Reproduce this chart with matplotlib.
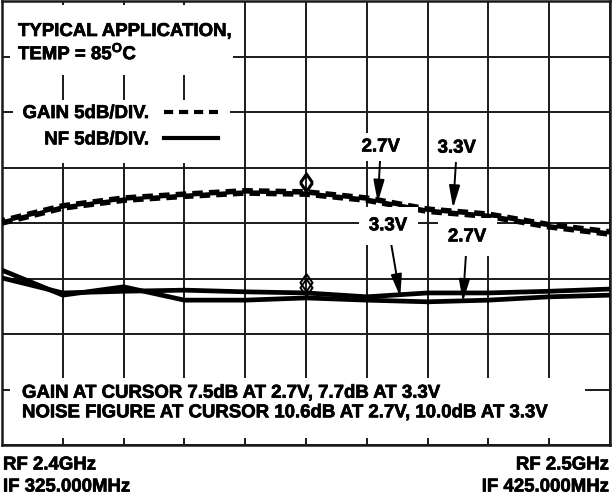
import numpy as np
import matplotlib
matplotlib.use("Agg")
import matplotlib.pyplot as plt
import matplotlib.patheffects as pe
from matplotlib.lines import Line2D
from matplotlib.patches import Rectangle
from matplotlib.path import Path

plt.rcParams['font.family'] = ['Liberation Sans', 'DejaVu Sans']
plt.rcParams['font.weight'] = 'bold'
plt.rcParams['mathtext.fontset'] = 'custom'
plt.rcParams['mathtext.rm'] = 'Liberation Sans:bold'
plt.rcParams['mathtext.bf'] = 'Liberation Sans:bold'

# RF sweep 2.4GHz -> 2.5GHz, one point per grid division
freq = [2.40, 2.41, 2.42, 2.43, 2.44, 2.45, 2.46, 2.47, 2.48, 2.49, 2.50]
# traces in screen divisions (5dB/DIV.)
gain_27 = [4.00, 4.27, 4.41, 4.48, 4.54, 4.52, 4.41, 4.21, 4.12, 3.93, 3.80]
gain_33 = [4.04, 4.31, 4.45, 4.52, 4.58, 4.56, 4.45, 4.25, 4.16, 3.97, 3.84]
nf_27 = [3.01, 2.74, 2.77, 2.79, 2.76, 2.74, 2.67, 2.74, 2.74, 2.77, 2.81]
nf_33 = [3.15, 2.70, 2.85, 2.61, 2.61, 2.65, 2.61, 2.58, 2.61, 2.67, 2.70]
cursor = 5

fs = 13.4
heavy = [pe.withStroke(linewidth=0.5, foreground='black')]
fig = plt.figure(figsize=(6.13, 4.97), dpi=100)
W, H = 613, 497
ax = fig.add_axes([2 / W, 1 - 445 / H, 608 / W, 444 / H])
ax.set_xlim(2.40, 2.50)
ax.set_ylim(0, 8)
ax.set_xticks(freq)
ax.set_yticks(np.arange(0, 9))
ax.set_xticklabels([])
ax.set_yticklabels([])
ax.tick_params(length=0)
ax.set_axisbelow(True)
ax.grid(True, color='#1a1a1a', lw=1.4)
for s in ax.spines.values():
    s.set_linewidth(1.8)
    s.set_color('#1a1a1a')


def px_box(x0, y0, x1, y1):
    # white blanking box, given in pixel coords of the axes
    ax.add_patch(Rectangle(((x0 - 2) / 608, 1 - (y1 - 1) / 444), (x1 - x0) / 608, (y1 - y0) / 444,
                           transform=ax.transAxes, facecolor='white', edgecolor='none', zorder=1))


px_box(10, 5, 233, 75)
px_box(13, 100, 230, 163)
px_box(10, 378, 585, 438)

ax.plot(freq, gain_27, color='k', lw=4.0, ls=(0, (1.9, 1.1)), zorder=3)
ax.plot(freq, gain_33, color='k', lw=4.0, ls=(1.3, (1.9, 1.1)), zorder=3)
ax.plot(freq, nf_27, color='k', lw=3.4, zorder=3, solid_joinstyle='miter')
ax.plot(freq, nf_33, color='k', lw=3.4, zorder=3, solid_joinstyle='miter')

diamond = Path([(0, 0), (0.7, 1), (0, 2), (-0.7, 1), (0, 0)],
               [Path.MOVETO, Path.LINETO, Path.LINETO, Path.LINETO, Path.CLOSEPOLY])
for tr in (gain_27, gain_33, nf_27, nf_33):
    ax.plot(freq[cursor], tr[cursor] + 0.04, marker=diamond, ms=25, mfc='none', mec='k', mew=1.4,
            ls='none', zorder=4)

ax.text(16 / 608, 1 - 22 / 444, 'TYPICAL APPLICATION,\nTEMP = 85$^{\\mathrm{O}}$C',
        transform=ax.transAxes, ha='left', va='top', fontsize=fs, linespacing=1.15, zorder=5,
        path_effects=heavy)

handles = [Line2D([], [], color='k', lw=3, ls=(0, (2.2, 1.4))),
           Line2D([], [], color='k', lw=3)]
leg = ax.legend(handles, ['GAIN 5dB/DIV.', 'NF 5dB/DIV.'], markerfirst=False, frameon=False,
                loc='upper right', bbox_to_anchor=(216 / 608, 1 - 104 / 444), borderaxespad=0,
                borderpad=0, handlelength=2.9, handletextpad=0.8, labelspacing=0.5,
                prop={'size': fs, 'weight': 'bold'})
for t in leg.get_texts():
    t.set_path_effects(heavy)

arrow = dict(arrowstyle='-|>,head_length=0.9,head_width=0.22', color='k', lw=1.4,
             shrinkA=0, shrinkB=0, mutation_scale=15)
labels = [('2.7V', 2.4623, 5.37, 2.4618, gain_27[6] - 0.04, 0.3),
          ('3.3V', 2.4748, 5.35, 2.4742, gain_33[7] + 0.02, 0.3),
          ('3.3V', 2.4635, 3.95, 2.4655, nf_33[6] + 0.06, 0.55),
          ('2.7V', 2.4765, 3.75, 2.4758, nf_27[7] - 0.16, 0.55)]
for txt, tx, ty, ax_, ay, pad in labels:
    ax.annotate(txt, xy=(ax_, ay), xytext=(tx, ty), ha='center', va='center', fontsize=fs,
                bbox=dict(boxstyle='square,pad=%g' % pad, fc='white', ec='none'),
                arrowprops=arrow, zorder=5, path_effects=heavy)

ax.text(20 / 608, 1 - 402 / 444,
        'GAIN AT CURSOR 7.5dB AT 2.7V, 7.7dB AT 3.3V\n'
        'NOISE FIGURE AT CURSOR 10.6dB AT 2.7V, 10.0dB AT 3.3V',
        transform=ax.transAxes, ha='left', va='center', fontsize=fs, linespacing=1.2, zorder=5,
        path_effects=heavy)

fig.text(3 / W, 1 - 465 / H, 'RF 2.4GHz', ha='left', va='center', fontsize=fs, path_effects=heavy)
fig.text(3 / W, 1 - 487 / H, 'IF 325.000MHz', ha='left', va='center', fontsize=fs, path_effects=heavy)
fig.text(609 / W, 1 - 465 / H, 'RF 2.5GHz', ha='right', va='center', fontsize=fs, path_effects=heavy)
fig.text(609 / W, 1 - 487 / H, 'IF 425.000MHz', ha='right', va='center', fontsize=fs, path_effects=heavy)

fig.savefig('out.png', dpi=100)
